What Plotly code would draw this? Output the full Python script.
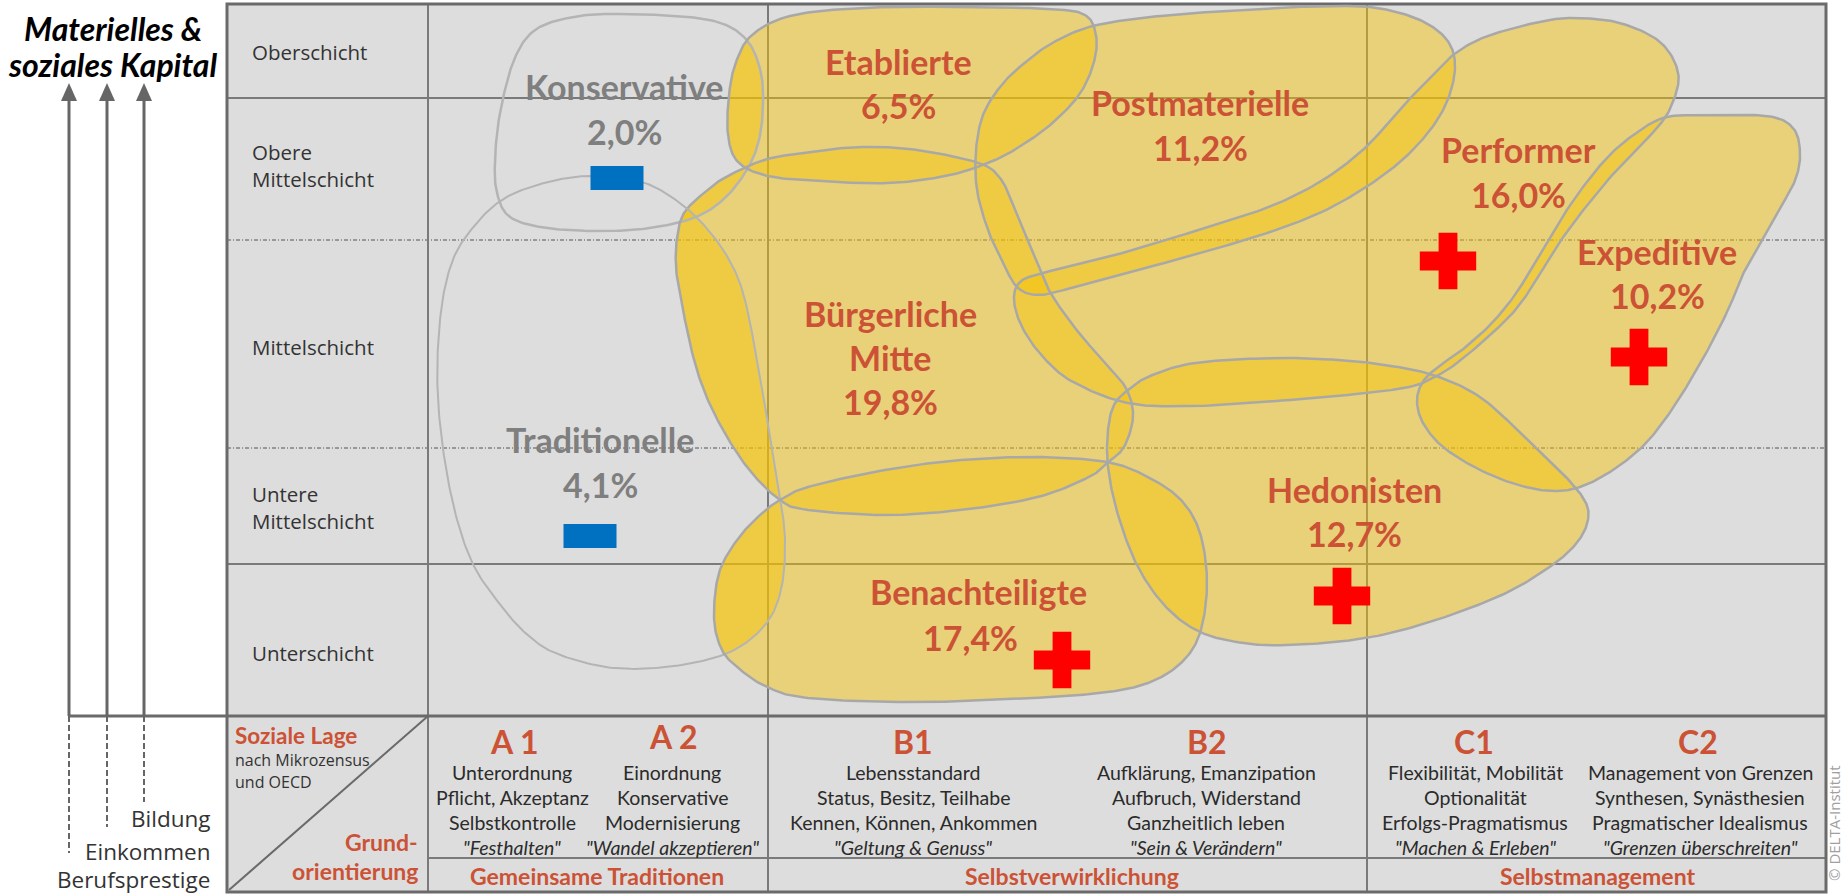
import numpy as np
import plotly.graph_objects as go

W, H = 1845, 896

# ------------------------------------------------------------------ data
milieus = ["Konservative", "Etablierte", "Postmaterielle", "Performer", "Expeditive",
           "Bürgerliche Mitte", "Traditionelle", "Hedonisten", "Benachteiligte"]
shares = [2.0, 6.5, 11.2, 16.0, 10.2, 19.8, 4.1, 12.7, 17.4]
trend = ["minus", "", "", "plus", "plus", "", "minus", "plus", "plus"]
faded = ["Konservative", "Traditionelle"]

strata = ["Oberschicht", "Obere Mittelschicht", "Mittelschicht", "Untere Mittelschicht", "Unterschicht"]
orientation_codes = ["A 1", "A 2", "B1", "B2", "C1", "C2"]
orientation_text = [
    ["Unterordnung", "Pflicht, Akzeptanz", "Selbstkontrolle"],
    ["Einordnung", "Konservative", "Modernisierung"],
    ["Lebensstandard", "Status, Besitz, Teilhabe", "Kennen, Können, Ankommen"],
    ["Aufklärung, Emanzipation", "Aufbruch, Widerstand", "Ganzheitlich leben"],
    ["Flexibilität, Mobilität", "Optionalität", "Erfolgs-Pragmatismus"],
    ["Management von Grenzen", "Synthesen, Synästhesien", "Pragmatischer Idealismus"],
]
orientation_mottos = ['"Festhalten"', '"Wandel akzeptieren"', '"Geltung & Genuss"',
                      '"Sein & Verändern"', '"Machen & Erleben"', '"Grenzen überschreiten"']
orientation_groups = ["Gemeinsame Traditionen", "Selbstverwirklichung", "Selbstmanagement"]
capital_dimensions = ["Bildung", "Einkommen", "Berufsprestige"]
axis_title = ["Materielles &", "soziales Kapital"]
corner_top = ["Soziale Lage", "nach Mikrozensus", "und OECD"]
corner_bottom = ["Grund-", "orientierung"]
credit = "© DELTA-Institut"

# ------------------------------------------------------------------ layout geometry (pixels)
GX0, GX1, GY0, GY1 = 227, 1826, 4, 892
COL_X = [428, 768, 1367]
ROW_SOLID = [98, 564]
ROW_DOTTED = [240, 448]
MAP_BOTTOM = 716
TABLE_MID = 858

stratum_y = [[52], [152, 179], [347], [494, 521], [653]]

# milieu outlines (control points of smooth closed curves)
outline = {
    "Konservative": [(619, 14), (688, 17), (726, 25), (749, 43), (761, 73), (763, 107), (759, 140),
                     (748, 168), (726, 197), (696, 217), (650, 228), (600, 231), (546, 228), (510, 217),
                     (497, 193), (495, 160), (500, 113), (514, 60), (535, 30), (573, 17)],
    "Etablierte": [(790, 16), (860, 8), (960, 7), (1050, 9), (1085, 15), (1096, 35), (1094, 62), (1081, 92),
                   (1058, 118), (1030, 140), (995, 160), (950, 175), (890, 183), (820, 181), (768, 176),
                   (738, 162), (728, 135), (729, 95), (736, 62), (752, 35)],
    "Postmaterielle": [(1097, 25), (1170, 15), (1260, 9), (1330, 6), (1377, 8), (1420, 20), (1447, 40),
                       (1455, 67), (1446, 104), (1422, 140), (1385, 174), (1330, 208), (1270, 232),
                       (1190, 256), (1130, 272), (1075, 287), (1040, 295), (1018, 288), (1003, 263),
                       (988, 230), (977, 190), (976, 150), (983, 115), (1000, 87), (1022, 65), (1054, 42)],
    "Performer": [(1453, 55), (1485, 37), (1539, 22), (1575, 18), (1620, 23), (1660, 42), (1678, 72),
                  (1673, 102), (1657, 128), (1614, 173), (1566, 233), (1528, 293), (1504, 322),
                  (1461, 360), (1433, 378), (1409, 387), (1366, 393), (1290, 400), (1195, 406),
                  (1128, 403), (1073, 382), (1043, 357), (1022, 327), (1014, 300), (1020, 282),
                  (1043, 273), (1108, 257), (1189, 233), (1269, 207), (1323, 180), (1366, 147),
                  (1399, 110), (1431, 77)],
    "Expeditive": [(1663, 118), (1700, 115), (1767, 116), (1793, 128), (1800, 152), (1796, 178),
                   (1782, 205), (1765, 235), (1745, 270), (1728, 310), (1705, 355), (1675, 405),
                   (1646, 443), (1613, 470), (1580, 487), (1550, 491), (1515, 484), (1478, 469),
                   (1443, 447), (1423, 423), (1417, 400), (1424, 380), (1442, 364), (1462, 350),
                   (1490, 325), (1517, 292), (1545, 245), (1575, 198), (1605, 160), (1632, 136)],
    "Bürgerliche Mitte": [(684, 213), (705, 192), (726, 177), (764, 160), (803, 153), (860, 147),
                          (917, 150), (979, 163), (1000, 178), (1011, 200), (1022, 227), (1034, 255),
                          (1050, 292), (1079, 333), (1109, 367), (1127, 390), (1133, 417), (1124, 447),
                          (1107, 463), (1089, 477), (1038, 497), (961, 510), (885, 515), (808, 510),
                          (780, 500), (747, 467), (716, 417), (696, 367), (681, 300), (676, 267),
                          (677, 238)],
    "Traditionelle": [(592, 176), (642, 182), (680, 203), (710, 232), (732, 265), (745, 300),
                      (757, 360), (769, 430), (779, 490), (785, 540), (781, 590), (765, 625),
                      (730, 652), (675, 666), (614, 668), (560, 655), (530, 637), (502, 607),
                      (471, 560), (450, 490), (438, 400), (440, 320), (452, 262), (475, 225),
                      (505, 198), (548, 182)],
    "Hedonisten": [(1128, 390), (1150, 376), (1195, 363), (1276, 358), (1338, 360), (1385, 365),
                   (1433, 375), (1480, 397), (1528, 440), (1565, 476), (1586, 503), (1587, 524),
                   (1575, 545), (1551, 566), (1504, 594), (1433, 621), (1366, 638), (1290, 645),
                   (1243, 643), (1200, 632), (1166, 607), (1138, 567), (1118, 515), (1108, 467),
                   (1108, 430), (1114, 405)],
    "Benachteiligte": [(780, 500), (808, 487), (885, 470), (961, 460), (1038, 457), (1107, 462),
                       (1148, 477), (1181, 500), (1200, 533), (1207, 583), (1200, 633), (1181, 663),
                       (1148, 683), (1100, 693), (1012, 699), (910, 702), (808, 698), (767, 687),
                       (737, 667), (721, 648), (714, 617), (719, 573), (737, 540), (760, 515)],
}

# label anchor: x, y of name line(s), y of share
label_pos = {
    "Konservative": (624, [86], 131),
    "Etablierte": (898, [61], 105),
    "Postmaterielle": (1200, [102], 147),
    "Performer": (1518, [149], 194),
    "Expeditive": (1657, [251], 295),
    "Bürgerliche Mitte": (890, [313, 357], 401),
    "Traditionelle": (600, [439], 484),
    "Hedonisten": (1354, [489], 533),
    "Benachteiligte": (978, [591], 637),
}
label_share_dx = {"Benachteiligte": -8}
symbol_pos = {
    "Konservative": (617, 178), "Traditionelle": (590, 536),
    "Performer": (1448, 261), "Expeditive": (1639, 357),
    "Hedonisten": (1342, 596), "Benachteiligte": (1062, 660),
}

code_x = [514, 673, 913, 1207, 1474, 1698]
code_y = [741, 736, 741, 741, 741, 741]
text_x = [512, 672, 913, 1206, 1475, 1700]
text_y = [772, 797, 822, 847]
group_x = [597, 1072, 1597]
group_y = 876
arrow_x = [69, 107, 144]
dash_end = [853, 827, 802]
dim_y = [818, 851, 879]

# ------------------------------------------------------------------ styles
RED = "#CC5236"
GREY_TXT = "#7F7F7F"
DARK = "#333333"
FILL = "rgba(247,196,0,0.45)"
EDGE = "#A8A8A8"
GRID = "#7A7A7A"
BG = "#DDDDDD"


def smooth_closed(pts, n=18):
    P = np.array(pts, float)
    m = len(P)
    t = np.linspace(0, 1, n, endpoint=False)[:, None]
    segs = []
    for i in range(m):
        p0, p1, p2, p3 = P[(i - 1) % m], P[i], P[(i + 1) % m], P[(i + 2) % m]
        segs.append(0.5 * (2 * p1 + (-p0 + p2) * t + (2 * p0 - 5 * p1 + 4 * p2 - p3) * t ** 2
                           + (-p0 + 3 * p1 - 3 * p2 + p3) * t ** 3))
    return np.vstack(segs)


def hull(points):
    pts = sorted(map(tuple, points))

    def cross(o, a, b):
        return (a[0] - o[0]) * (b[1] - o[1]) - (a[1] - o[1]) * (b[0] - o[0])
    lower, upper = [], []
    for p in pts:
        while len(lower) >= 2 and cross(lower[-2], lower[-1], p) <= 0:
            lower.pop()
        lower.append(p)
    for p in reversed(pts):
        while len(upper) >= 2 and cross(upper[-2], upper[-1], p) <= 0:
            upper.pop()
        upper.append(p)
    return np.array(lower[:-1] + upper[:-1])


def clip(subject, clipper):
    c = clipper
    area = 0.5 * np.sum(c[:, 0] * np.roll(c[:, 1], -1) - np.roll(c[:, 0], -1) * c[:, 1])
    sgn = 1 if area > 0 else -1

    def inside(p, a, b):
        return sgn * ((b[0] - a[0]) * (p[1] - a[1]) - (b[1] - a[1]) * (p[0] - a[0])) >= 0

    def inter(p, q, a, b):
        d1 = q - p
        d2 = b - a
        den = d1[0] * d2[1] - d1[1] * d2[0]
        if abs(den) < 1e-12:
            return q
        tt = ((a[0] - p[0]) * d2[1] - (a[1] - p[1]) * d2[0]) / den
        return p + tt * d1

    out = [np.array(p) for p in subject]
    for i in range(len(c)):
        a, b = c[i], c[(i + 1) % len(c)]
        inp, out = out, []
        if not inp:
            break
        s = inp[-1]
        for e in inp:
            if inside(e, a, b):
                if not inside(s, a, b):
                    out.append(inter(s, e, a, b))
                out.append(e)
            elif inside(s, a, b):
                out.append(inter(s, e, a, b))
            s = e
    return np.array(out)


fig = go.Figure()
shapes = []
ann = []

# background of the grid
shapes.append(dict(type="rect", x0=GX0, x1=GX1, y0=GY0, y1=GY1, fillcolor=BG,
                   line=dict(width=0), layer="below"))
# inner grid lines
for y in ROW_SOLID:
    shapes.append(dict(type="line", x0=GX0, x1=GX1, y0=y, y1=y, line=dict(color=GRID, width=2), layer="below"))
for y in ROW_DOTTED:
    shapes.append(dict(type="line", x0=GX0, x1=GX1, y0=y, y1=y,
                       line=dict(color="#555555", width=1, dash="4px,2px,1px,2px"), layer="below"))
for x in COL_X:
    shapes.append(dict(type="line", x0=x, x1=x, y0=GY0, y1=GY1, line=dict(color=GRID, width=2), layer="below"))
shapes.append(dict(type="line", x0=arrow_x[0], x1=GX1, y0=MAP_BOTTOM, y1=MAP_BOTTOM,
                   line=dict(color="#6A6A6A", width=3), layer="below"))
shapes.append(dict(type="line", x0=COL_X[0], x1=GX1, y0=TABLE_MID, y1=TABLE_MID,
                   line=dict(color=GRID, width=2), layer="below"))
shapes.append(dict(type="line", x0=GX0 + 2, x1=COL_X[0], y0=GY1 - 2, y1=MAP_BOTTOM,
                   line=dict(color="#6A6A6A", width=2), layer="below"))
shapes.append(dict(type="rect", x0=GX0, x1=GX1, y0=GY0, y1=GY1, line=dict(color="#6A6A6A", width=3),
                   fillcolor="rgba(0,0,0,0)", layer="below"))

# arrows of the capital dimensions
for x, ye in zip(arrow_x, dash_end):
    shapes.append(dict(type="line", x0=x, x1=x, y0=100, y1=MAP_BOTTOM, line=dict(color="#666666", width=3)))
    shapes.append(dict(type="path", path=f"M {x-8},101 L {x},83 L {x+8},101 Z",
                       fillcolor="#666666", line=dict(width=0)))
    shapes.append(dict(type="line", x0=x, x1=x, y0=MAP_BOTTOM, y1=ye,
                       line=dict(color="#666666", width=2, dash="6px,3px")))

# milieu fills
polys = {m: smooth_closed(outline[m]) for m in milieus}
clippers = [hull(polys[f]) for f in faded]
for m in milieus:
    if m in faded:
        continue
    p = polys[m]
    fig.add_trace(go.Scatter(x=np.append(p[:, 0], p[0, 0]), y=np.append(p[:, 1], p[0, 1]),
                             mode="lines", fill="toself", fillcolor=FILL,
                             line=dict(width=0, color="rgba(0,0,0,0)"), hoverinfo="skip", showlegend=False))
    for cpoly in clippers:
        lens = clip(p, cpoly)
        if len(lens) >= 3:
            fig.add_trace(go.Scatter(x=np.append(lens[:, 0], lens[0, 0]), y=np.append(lens[:, 1], lens[0, 1]),
                                     mode="lines", fill="toself", fillcolor=FILL,
                                     line=dict(width=0, color="rgba(0,0,0,0)"),
                                     hoverinfo="skip", showlegend=False))
# milieu outlines
for m in milieus:
    p = polys[m]
    w = 2 if m == "Traditionelle" else 2.5
    col = "#B4B4B4" if m in faded else EDGE
    fig.add_trace(go.Scatter(x=np.append(p[:, 0], p[0, 0]), y=np.append(p[:, 1], p[0, 1]),
                             mode="lines", line=dict(width=w, color=col),
                             hoverinfo="skip", showlegend=False))

# trend symbols
plus_pts = [symbol_pos[m] for m, t in zip(milieus, trend) if t == "plus"]
fig.add_trace(go.Scatter(x=[p[0] for p in plus_pts], y=[p[1] for p in plus_pts], mode="markers",
                         marker=dict(symbol="cross", size=47, color="#FF0000", line=dict(width=0)),
                         hoverinfo="skip", showlegend=False))
for m, t in zip(milieus, trend):
    if t == "minus":
        cx, cy = symbol_pos[m]
        shapes.append(dict(type="rect", x0=cx - 26.5, x1=cx + 26.5, y0=cy - 12, y1=cy + 12,
                           fillcolor="#0070C0", line=dict(width=0)))


def txt(x, y, s, size, color, family="Lato", weight="normal", style="normal",
        xanchor="center", angle=0):
    ann.append(dict(x=x, y=y, xref="x", yref="y", text=s, showarrow=False, xanchor=xanchor,
                    yanchor="middle", textangle=angle,
                    font=dict(family=family, size=size, color=color, weight=weight, style=style)))


# milieu labels
for m, v in zip(milieus, shares):
    x, ys, ysh = label_pos[m]
    col = GREY_TXT if m in faded else RED
    parts = m.split(" ") if len(ys) > 1 else [m]
    for part, y in zip(parts, ys):
        txt(x, y, part, 34, col, weight="bold")
    txt(x + label_share_dx.get(m, 0), ysh, f"{v:.1f}".replace(".", ",") + "%", 34, col, weight="bold")

# strata labels
for s, ys in zip(strata, stratum_y):
    parts = s.split(" ") if len(ys) > 1 else [s]
    for part, y in zip(parts, ys):
        txt(250, y, part, 20.5, DARK, family="Open Sans", xanchor="left")

# axis title
txt(113, 28, axis_title[0], 32, "#000000", weight="bold", style="italic")
txt(113, 64, axis_title[1], 32, "#000000", weight="bold", style="italic")
for s, y in zip(capital_dimensions, dim_y):
    txt(212, y, s, 22.5, DARK, family="Open Sans", xanchor="right")

# corner cell
txt(233, 735, corner_top[0], 22.5, RED, weight="bold", xanchor="left")
txt(233, 760, corner_top[1], 16, DARK, family="Open Sans", xanchor="left")
txt(233, 782, corner_top[2], 16, DARK, family="Open Sans", xanchor="left")
txt(420, 842, corner_bottom[0], 23, RED, weight="bold", xanchor="right")
txt(420, 871, corner_bottom[1], 23, RED, weight="bold", xanchor="right")

# basic orientations
for i, code in enumerate(orientation_codes):
    txt(code_x[i], code_y[i], code, 32, RED, weight="bold")
    for line, y in zip(orientation_text[i], text_y[:3]):
        txt(text_x[i], y, line, 19.5, "#2B2B2B")
    txt(text_x[i], text_y[3], orientation_mottos[i], 19.5, "#2B2B2B", style="italic")
for g, x in zip(orientation_groups, group_x):
    txt(x, group_y, g, 23, RED, weight="bold")

# credit
txt(1834, 823, credit, 15, "#A0A0A0", family="Open Sans", angle=-90)

fig.update_layout(
    width=W, height=H, margin=dict(l=0, r=0, t=0, b=0),
    paper_bgcolor="white", plot_bgcolor="white",
    xaxis=dict(range=[0, W], visible=False, fixedrange=True),
    yaxis=dict(range=[H, 0], visible=False, fixedrange=True),
    shapes=shapes, annotations=ann, showlegend=False,
)
fig.write_html("out.html", config=dict(displayModeBar=False),
               post_script="document.body.style.margin='0';document.body.style.overflow='hidden';")
